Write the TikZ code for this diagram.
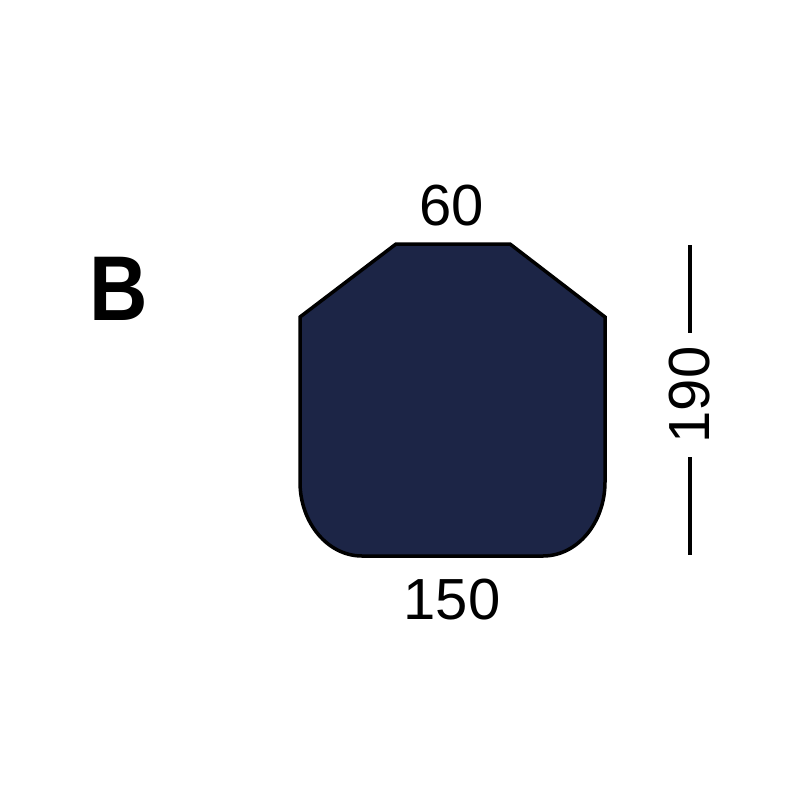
\documentclass[tikz,border=0pt]{standalone}
\usepackage{fontspec}
\setmainfont{Liberation Sans}
\definecolor{navy}{HTML}{1C2546}
\begin{document}
\begin{tikzpicture}[x=1pt,y=-1pt,
  dimtext/.style={font=\fontsize{58}{66}\selectfont, inner sep=0pt},
  dimline/.style={line width=3.2pt}]
\useasboundingbox (0,0) rectangle (800,800);
\fill[white] (0,0) rectangle (800,800);
\draw[line width=3.5pt, fill=navy, line join=miter]
  (396,244) -- (510,244) -- (605,317) -- (605,482)
  arc[start angle=0, end angle=90, x radius=62, y radius=74]
  -- (362,556)
  arc[start angle=90, end angle=180, x radius=62, y radius=74]
  -- (300,317) -- cycle;
\node[dimtext, anchor=base] (top) at (452,225) {60};
\node[dimtext, anchor=base] (bot) at (452,619) {150};
\node[dimtext, anchor=base, rotate=90] (side) at (709,395) {190};
\coordinate (s1) at (690,245);
\coordinate (s2) at (690,333);
\coordinate (s3) at (690,457);
\coordinate (s4) at (690,555);
\draw[dimline] (s1) -- (s2);
\draw[dimline] (s3) -- (s4);
\node[font=\fontsize{92}{100}\selectfont\bfseries, anchor=base west, inner sep=0pt, xscale=0.88] (lab) at (89,320) {B};
\end{tikzpicture}
\end{document}
